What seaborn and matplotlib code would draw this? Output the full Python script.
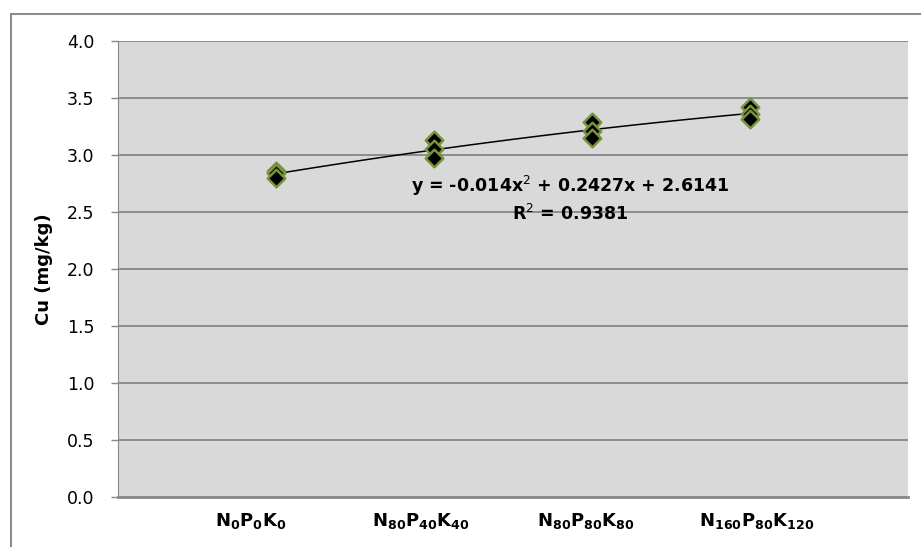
import numpy as np
import pandas as pd
import matplotlib.pyplot as plt
import seaborn as sns
from matplotlib.patches import Rectangle

# 处理（x 位置 1..4），每个处理三个重复
treatment_x = [1, 1, 1, 2, 2, 2, 3, 3, 3, 4, 4, 4]
cu_values = [2.86, 2.84, 2.80, 3.13, 3.05, 2.97, 3.29, 3.21, 3.15, 3.42, 3.36, 3.32]
tick_labels = [r"$\mathbf{N_{0}P_{0}K_{0}}$",
               r"$\mathbf{N_{80}P_{40}K_{40}}$",
               r"$\mathbf{N_{80}P_{80}K_{80}}$",
               r"$\mathbf{N_{160}P_{80}K_{120}}$"]
label_pos = [0.84, 1.92, 2.96, 4.04]
y_ticks = [0.0, 0.5, 1.0, 1.5, 2.0, 2.5, 3.0, 3.5, 4.0]
equation = "y = -0.014x$^{2}$ + 0.2427x + 2.6141"
r2_text = "R$^{2}$ = 0.9381"

df = pd.DataFrame({"x": treatment_x, "cu": cu_values})

sns.set_style("white")
plt.rcParams['font.family'] = ['DejaVu Sans']
plt.rcParams['mathtext.fontset'] = 'dejavusans'
plt.rcParams['text.color'] = 'black'
plt.rcParams['axes.labelcolor'] = 'black'
plt.rcParams['xtick.labelcolor'] = 'black'
plt.rcParams['ytick.labelcolor'] = 'black'

fig = plt.figure(figsize=(9.21, 5.47), dpi=100)
ax = fig.add_axes([118 / 921, 1 - 497 / 547, 790 / 921, 456 / 547])
ax.set_facecolor('#D9D9D9')

# 外框
fig.patches.append(Rectangle((11 / 921, -0.1), 1.2, 1 - 14 / 547 + 0.1,
                             transform=fig.transFigure, fill=False,
                             edgecolor='#8C8C8C', linewidth=1.5, zorder=0))

for yv in y_ticks[1:]:
    ax.axhline(yv, color='#878787', linewidth=1.3, zorder=1)

sns.regplot(data=df, x='x', y='cu', order=2, ci=None, scatter=False,
            truncate=True, color='black', line_kws={'linewidth': 1.1, 'zorder': 2}, ax=ax)
sns.scatterplot(data=df, x='x', y='cu', marker='D', s=80, color='black',
                edgecolor='#77933C', linewidth=1.8, zorder=3, ax=ax)

ax.set_xlim(0, 5)
ax.set_ylim(0, 4)
ax.set_yticks(y_ticks)
ax.set_yticklabels([f"{v:.1f}" for v in y_ticks], fontsize=12.5)
ax.set_xticks(label_pos)
ax.set_xticklabels(tick_labels, fontsize=13)
ax.tick_params(axis='x', length=0, pad=10)
ax.tick_params(axis='y', length=5, width=1, color='#878787', pad=12, left=True)
ax.set_xlabel('')
ax.set_ylabel('Cu (mg/kg)', fontsize=13, fontweight='bold', labelpad=10)

for side in ['top', 'right']:
    ax.spines[side].set_visible(False)
ax.spines['left'].set_color('#878787')
ax.spines['bottom'].set_color('#878787')
ax.spines['bottom'].set_linewidth(2)

ax.text(2.86, 2.73, equation, ha='center', va='center', fontsize=12.5, fontweight='bold')
ax.text(2.86, 2.48, r2_text, ha='center', va='center', fontsize=12.5, fontweight='bold')

fig.savefig('out.png', dpi=100)
